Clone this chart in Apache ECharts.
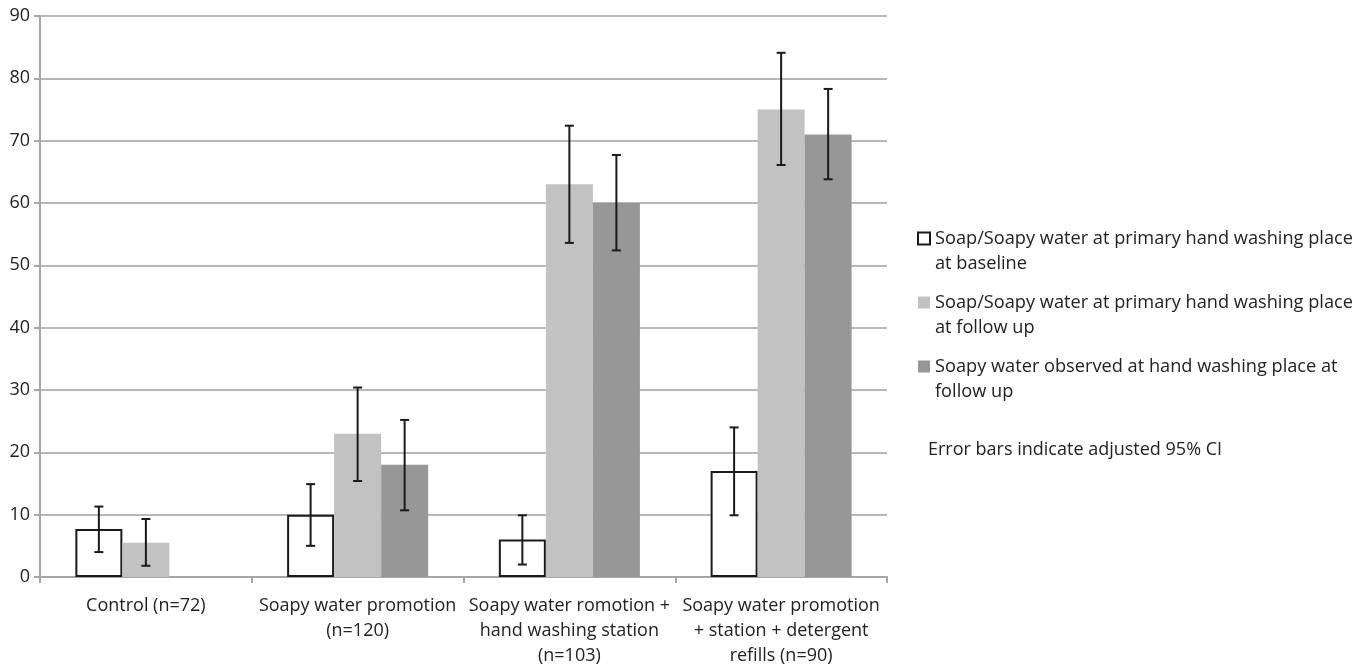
<!DOCTYPE html>
<html>
<head>
<meta charset="utf-8">
<script src="https://cdn.jsdelivr.net/npm/echarts@6/dist/echarts.min.js"></script>
<style>html,body{margin:0;padding:0;background:#fff}#c{width:1367px;height:668px}</style>
</head>
<body>
<div id="c"></div>
<script>
const categories = ['Control (n=72)', 'Soapy water promotion\n(n=120)', 'Soapy water romotion +\nhand washing station\n(n=103)', 'Soapy water promotion\n+ station + detergent\nrefills (n=90)'];
const seriesNames = ['Soap/Soapy water at primary hand washing place\nat baseline', 'Soap/Soapy water at primary hand washing place\nat follow up', 'Soapy water observed at hand washing place at\nfollow up'];
const baseline = [7.7, 10, 6, 17];
const baselineLow = [4.0, 5.0, 2.0, 9.9];
const baselineHigh = [11.3, 14.9, 9.9, 24.0];
const followUp = [5.5, 23, 63, 75];
const followUpLow = [1.8, 15.4, 53.6, 66.1];
const followUpHigh = [9.3, 30.4, 72.4, 84.1];
const observed = [null, 18, 60, 71];
const observedLow = [null, 10.7, 52.4, 63.8];
const observedHigh = [null, 25.2, 67.7, 78.3];
const yTicks = [0, 10, 20, 30, 40, 50, 60, 70, 80, 90];
const footnote = 'Error bars indicate adjusted 95% CI';

const FONT = 'Open Sans';
const CAT_GAP = 0.334;

function errorSeries(low, high, idx) {
  const data = low.map((l, i) => [i, l, high[i]]).filter(d => d[1] != null);
  return {
    type: 'custom',
    silent: true,
    z: 10,
    data: data,
    renderItem: function (params, api) {
      const cat = api.value(0);
      const lo = api.coord([cat, api.value(1)]);
      const hi = api.coord([cat, api.value(2)]);
      const catW = api.size([1, 0])[0];
      const barW = catW * (1 - CAT_GAP) / 3;
      const x = lo[0] + (idx - 1) * barW;
      const cap = 4.5;
      const style = { stroke: '#1a1a1a', lineWidth: 2 };
      return {
        type: 'group',
        children: [
          { type: 'line', shape: { x1: x, y1: lo[1], x2: x, y2: hi[1] }, style: style },
          { type: 'line', shape: { x1: x - cap, y1: lo[1], x2: x + cap, y2: lo[1] }, style: style },
          { type: 'line', shape: { x1: x - cap, y1: hi[1], x2: x + cap, y2: hi[1] }, style: style }
        ]
      };
    }
  };
}

const chart = echarts.init(document.getElementById('c'));
chart.setOption({
  animation: false,
  backgroundColor: '#fff',
  textStyle: { fontFamily: FONT },
  title: {
    text: footnote,
    left: 923, top: 436,
    textStyle: { fontFamily: FONT, fontSize: 18, fontWeight: 'normal', color: '#222' }
  },
  grid: { left: 40, right: 480, top: 16, bottom: 90, containLabel: false },
  legend: {
    orient: 'vertical',
    left: 912, top: 196,
    itemWidth: 12, itemHeight: 12,
    itemGap: -11,
    icon: 'rect',
    selectedMode: false,
    data: seriesNames,
    formatter: name => '\n' + name,
    textStyle: { fontFamily: FONT, fontSize: 18.2, color: '#222', lineHeight: 25 }
  },
  xAxis: {
    type: 'category',
    data: categories,
    axisLine: { lineStyle: { color: '#a6a6a6', width: 2 } },
    axisTick: { show: true, length: 6, lineStyle: { color: '#a6a6a6', width: 2 } },
    axisLabel: { color: '#222', fontSize: 18, lineHeight: 25, margin: 16, interval: 0, fontFamily: FONT }
  },
  yAxis: {
    type: 'value',
    min: 0, max: 90, interval: 10,
    axisLine: { show: true, lineStyle: { color: '#a6a6a6', width: 2 } },
    axisTick: { show: true, length: 6, lineStyle: { color: '#a6a6a6', width: 2 } },
    splitLine: { show: true, lineStyle: { color: '#b8b8b8', width: 2 } },
    axisLabel: { color: '#222', fontSize: 18, margin: 10, fontFamily: FONT,
      formatter: v => yTicks.includes(v) ? String(v) : '' }
  },
  series: [
    { name: seriesNames[0], type: 'bar', data: baseline, barGap: '0%', barCategoryGap: (CAT_GAP * 100) + '%',
      itemStyle: { color: '#ffffff', borderColor: '#1a1a1a', borderWidth: 2 } },
    { name: seriesNames[1], type: 'bar', data: followUp, barGap: '0%', barCategoryGap: (CAT_GAP * 100) + '%',
      itemStyle: { color: '#c2c2c2' } },
    { name: seriesNames[2], type: 'bar', data: observed, barGap: '0%', barCategoryGap: (CAT_GAP * 100) + '%',
      itemStyle: { color: '#979797' } },
    errorSeries(baselineLow, baselineHigh, 0),
    errorSeries(followUpLow, followUpHigh, 1),
    errorSeries(observedLow, observedHigh, 2)
  ]
});
</script>
</body>
</html>
